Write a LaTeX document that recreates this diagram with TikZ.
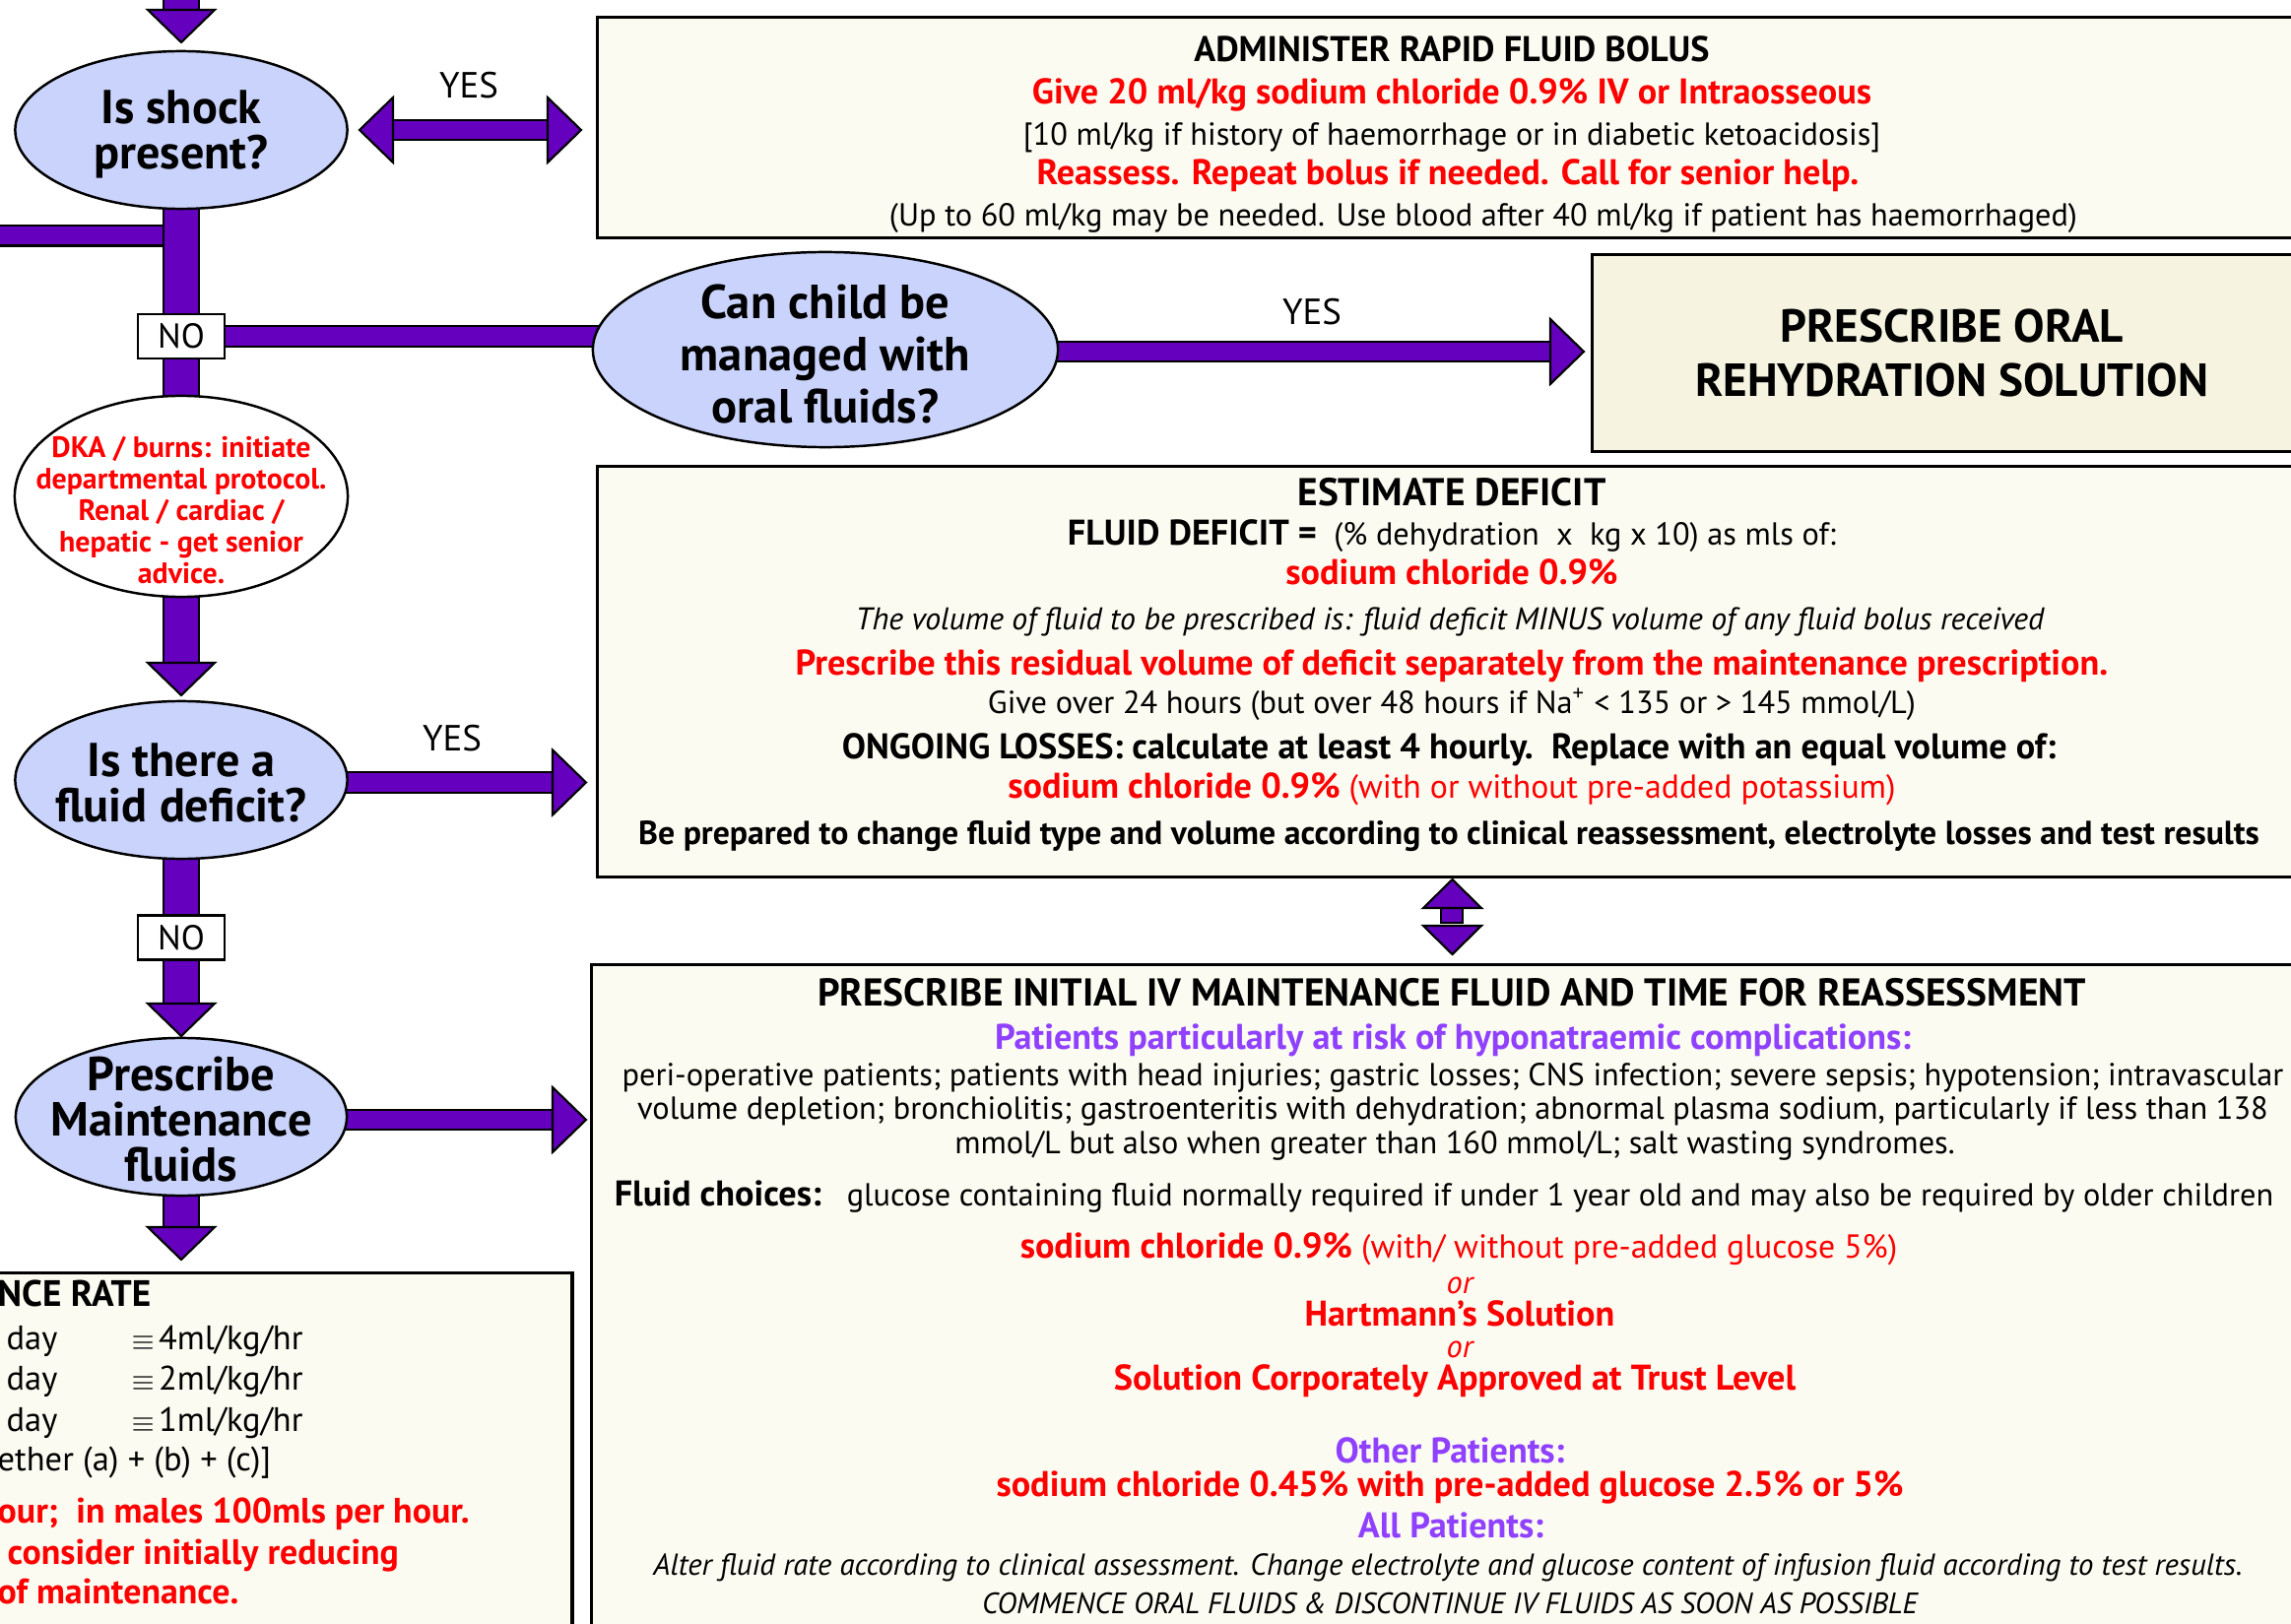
\documentclass[tikz,border=0pt]{standalone}
\usepackage{fontspec}
\setmainfont{PT Sans}
\usetikzlibrary{shapes.geometric, backgrounds}

\definecolor{flowpurple}{HTML}{6400BE}
\definecolor{ovalblue}{HTML}{C9D3FB}
\definecolor{boxcream}{HTML}{FBFBF1}
\definecolor{oralcream}{HTML}{F6F4E1}
\definecolor{alertred}{HTML}{FF0000}
\definecolor{riskviolet}{HTML}{9040FF}

\newcommand{\bigbold}{\bfseries\fontsize{10.3}{11}\selectfont}

\begin{document}
\begin{tikzpicture}[x=0.01cm, y=-0.01cm]
    \def\cx{184}
    \def\mx{1474}
    \tikzset{
        shaft/.style={draw=black, line width=0.6pt, double=flowpurple},
        hshaft/.style={shaft, double distance=0.18cm},
        vshaft/.style={shaft, double distance=0.34cm},
        tip/.style={fill=flowpurple, draw=black, line width=0.6pt},
        tipdown/.pic={\filldraw[tip] (-34,0) -- (34,0) -- (0,33) -- cycle;},
        tipright/.pic={\filldraw[tip] (0,-33) -- (0,33) -- (34,0) -- cycle;},
        tipleft/.pic={\filldraw[tip] (0,-33) -- (0,33) -- (-34,0) -- cycle;},
        oval/.style={ellipse, draw=black, line width=0.7pt, fill=ovalblue, inner sep=0pt},
        ovaltxt/.style={inner sep=0pt, align=center, font=\bfseries\fontsize{13.7}{13.2}\selectfont},
        infobox/.style={rectangle, draw=black, line width=0.9pt, fill=boxcream, anchor=north west, inner sep=0pt},
        nobox/.style={rectangle, draw=black, line width=0.6pt, fill=white, minimum width=0.88cm,
            minimum height=0.45cm, inner sep=0pt, font=\fontsize{10}{11}\selectfont},
        yestxt/.style={inner sep=0pt, font=\fontsize{10.5}{12}\selectfont},
        bodytxt/.style={inner sep=0pt, anchor=mid, yshift=-0.04cm, font=\fontsize{9.2}{10}\selectfont},
        boldtxt/.style={bodytxt, font=\bigbold},
        titletxt/.style={bodytxt, font=\bfseries\fontsize{11.2}{12}\selectfont},
        redbold/.style={boldtxt, text=alertred},
        redtxt/.style={bodytxt, text=alertred, font=\fontsize{9.6}{10}\selectfont},
        violetbold/.style={boldtxt, text=riskviolet},
        italtxt/.style={bodytxt, font=\itshape\fontsize{8.9}{10}\selectfont},
        ratetxt/.style={inner sep=0pt, anchor=mid west, font=\fontsize{9.8}{11}\selectfont},
        ratered/.style={ratetxt, text=alertred, font=\bfseries\fontsize{10.2}{11}\selectfont}
    }
    \useasboundingbox (0,0) rectangle (2326,1649);

    % decision column
    \node[oval, minimum width=3.37cm, minimum height=1.6cm] (shock) at (\cx,132) {};
    \node[ovaltxt] (shocktxt) at (\cx,136.5) {Is shock\\present?};
    \node[nobox] (no1) at (\cx,341.5) {NO};
    \node[oval, minimum width=4.72cm, minimum height=1.98cm] (oral) at (838,355) {};
    \node[ovaltxt, font=\bfseries\fontsize{13.8}{15.2}\selectfont] (oraltxt) at (838,359.5) {Can child be\\managed with\\oral fluids?};
    \node[oval, fill=white, minimum width=3.38cm, minimum height=2.04cm] (dka) at (\cx,504) {};
    \node[ovaltxt, text=alertred, font=\bfseries\fontsize{8.5}{9.1}\selectfont] (dkatxt) at (\cx,518) {DKA / burns: initiate\\departmental protocol.\\Renal / cardiac /\\hepatic - get senior\\advice.};
    \node[oval, minimum width=3.37cm, minimum height=1.6cm] (deficit) at (\cx,792) {};
    \node[ovaltxt, font=\bfseries\fontsize{13.7}{13.3}\selectfont] (deficittxt) at (\cx,795) {Is there a\\fluid deficit?};
    \node[nobox] (no2) at (\cx,952) {NO};
    \node[oval, minimum width=3.36cm, minimum height=1.6cm] (maint) at (\cx,1134) {};
    \node[ovaltxt, font=\bfseries\fontsize{13.8}{13.1}\selectfont] (mainttxt) at (\cx,1137) {Prescribe\\Maintenance\\fluids};

    % boxes
    \node[infobox, minimum width=17.4cm, minimum height=2.24cm] (bolus) at (605,16) {};
    \node[infobox, fill=oralcream, minimum width=7.3cm, minimum height=2cm, align=center,
        font=\bfseries\fontsize{13.4}{15.6}\selectfont] (ors) at (1615,257) {PRESCRIBE ORAL\\REHYDRATION SOLUTION};
    \node[infobox, minimum width=17.4cm, minimum height=4.17cm] (estimate) at (605,472) {};
    \node[infobox, minimum width=17.5cm, minimum height=7cm] (ivfluid) at (599,978) {};
    \node[infobox, minimum width=5.99cm, minimum height=4cm] (rate) at (-20,1291) {};

    % connectors
    \coordinate (entry) at (\cx,0);
    \coordinate (entryhead) at (\cx,10);
    \coordinate (leftin) at (0,239.5);
    \coordinate (dblL) at (399,132);
    \coordinate (dblR) at (556,132);
    \coordinate (orshead) at (1574,357);
    \coordinate (dkahead) at (\cx,673);
    \coordinate (defhead) at (561,794.5);
    \coordinate (mainhead) at (\cx,1019);
    \coordinate (ivhead) at (561,1137);
    \coordinate (ratehead) at (\cx,1246);
    \begin{scope}[on background layer]
        \draw[hshaft] (leftin) -- (leftin -| shock.center);
        \draw[vshaft] (entry) -- (entryhead);
        \draw[vshaft] (shock.center) -- (dka.center);
        \draw[hshaft] (no1.east) -- (no1.east -| oral.center);
        \draw[hshaft] (dblL) -- (dblR);
        \draw[hshaft] (oral.center |- orshead) -- (orshead);
        \draw[vshaft] (dka.center) -- (dkahead);
        \draw[hshaft] (deficit.center |- defhead) -- (defhead);
        \draw[vshaft] (deficit.center) -- (mainhead);
        \draw[hshaft] (maint.center |- ivhead) -- (ivhead);
        \draw[vshaft] (maint.center) -- (ratehead);
    \end{scope}
    \foreach \h in {entryhead, dkahead, mainhead, ratehead} {
        \pic at (\h) {tipdown};
    }
    \foreach \h in {dblR, orshead, defhead, ivhead} {
        \pic at (\h) {tipright};
    }
    \pic at (dblL) {tipleft};
    % up and down between the deficit box and the maintenance box
    \filldraw[tip] (1463,922) rectangle (1485,937);
    \filldraw[tip] (1445,922) -- (1504,922) -- (1474.5,893) -- cycle;
    \filldraw[tip] (1445,940) -- (1504,940) -- (1474.5,969) -- cycle;

    \node[yestxt] (yes1) at (476,87) {YES};
    \node[yestxt] (yes2) at (1332,317) {YES};
    \node[yestxt] (yes3) at (459,750) {YES};

    % bolus text
    \node[boldtxt] (b1) at (\mx,50) {ADMINISTER RAPID FLUID BOLUS};
    \node[redbold] (b2) at (\mx,93) {Give 20 ml/kg sodium chloride 0.9\% IV or Intraosseous};
    \node[bodytxt] (b3) at (\mx,135) {[10 ml/kg if history of haemorrhage or in diabetic ketoacidosis]};
    \node[redbold] (b4) at (1470,175) {Reassess. Repeat bolus if needed. Call for senior help.};
    \node[bodytxt] (b5) at (1506,217) {(Up to 60 ml/kg may be needed. Use blood after 40 ml/kg if patient has haemorrhaged)};

    % deficit text
    \node[titletxt] (d1) at (\mx,501) {ESTIMATE DEFICIT};
    \node[bodytxt] (d2) at (\mx,541) {{\bigbold FLUID DEFICIT =}\ \ (\% dehydration\ \ x\ \ kg x 10) as mls of:};
    \node[redbold] (d3) at (\mx,581) {sodium chloride 0.9\%};
    \node[italtxt, font=\itshape\fontsize{9.05}{10}\selectfont] (d4) at (1472,627) {The volume of fluid to be prescribed is: fluid deficit MINUS volume of any fluid bolus received};
    \node[redbold] (d5) at (\mx,673) {Prescribe this residual volume of deficit separately from the maintenance prescription.};
    \node[bodytxt] (d6) at (\mx,712) {Give over 24 hours (but over 48 hours if Na\textsuperscript{+} < 135 or > 145 mmol/L)};
    \node[boldtxt] (d7) at (1471,758) {ONGOING LOSSES: calculate at least 4 hourly.\ \ Replace with an equal volume of:};
    \node[redtxt] (d8) at (\mx,798) {{\bigbold sodium chloride 0.9\%} (with or without pre-added potassium)};
    \node[boldtxt, font=\bfseries\fontsize{9.6}{10}\selectfont] (d9) at (1471,845) {Be prepared to change fluid type and volume according to clinical reassessment, electrolyte losses and test results};

    % maintenance text
    \node[titletxt] (m1) at (\mx,1009) {PRESCRIBE INITIAL IV MAINTENANCE FLUID AND TIME FOR REASSESSMENT};
    \node[violetbold] (m2) at (1475,1053) {Patients particularly at risk of hyponatraemic complications:};
    \node[bodytxt] (m3) at (1475,1090) {peri-operative patients; patients with head injuries; gastric losses; CNS infection; severe sepsis; hypotension; intravascular};
    \node[bodytxt] (m4) at (1475,1124) {volume depletion; bronchiolitis; gastroenteritis with dehydration; abnormal plasma sodium, particularly if less than 138};
    \node[bodytxt] (m5) at (1477,1159) {mmol/L but also when greater than 160 mmol/L; salt wasting syndromes.};
    \node[bodytxt] (m6) at (1466,1212) {{\bigbold Fluid choices:}\ \ \ glucose containing fluid normally required if under 1 year old and may also be required by older children};
    \node[redtxt] (m7) at (1481,1265) {{\bigbold sodium chloride 0.9\%} (with/ without pre-added glucose 5\%)};
    \node[redtxt, font=\itshape\fontsize{9.2}{10}\selectfont] (m8) at (1482,1301) {or};
    \node[redbold] (m9) at (1482,1334) {Hartmann’s Solution};
    \node[redtxt, font=\itshape\fontsize{9.2}{10}\selectfont] (m10) at (1482,1366) {or};
    \node[redbold] (m11) at (1477,1399) {Solution Corporately Approved at Trust Level};
    \node[violetbold] (m12) at (1472,1473) {Other Patients:};
    \node[redbold] (m13) at (1472,1507) {sodium chloride 0.45\% with pre-added glucose 2.5\% or 5\%};
    \node[violetbold] (m14) at (1473,1549) {All Patients:};
    \node[italtxt, font=\itshape\fontsize{8.75}{10}\selectfont] (m15) at (1470,1587) {Alter fluid rate according to clinical assessment. Change electrolyte and glucose content of infusion fluid according to test results.};
    \node[italtxt, font=\itshape\fontsize{8.5}{10}\selectfont] (m16) at (1472,1626) {COMMENCE ORAL FLUIDS \& DISCONTINUE IV FLUIDS AS SOON AS POSSIBLE};

    % rate text
    \node[ratetxt, font=\bfseries\fontsize{10.6}{11}\selectfont] (r0) at (-3,1318) {NCE RATE};
    \foreach \rate [count=\i] in {4,2,1} {
        \node[ratetxt] (day\i) at (6,1320+41.5*\i) {day};
        \node[ratetxt] (rate\i) at (133,1320+41.5*\i) {{\fontsize{8}{8}\selectfont$\equiv$}\hspace{0.12em}\rate ml/kg/hr};
    }
    \node[ratetxt] (r4) at (-3,1485) {ether (a) + (b) + (c)]};
    \node[ratered] (r5) at (-3,1538) {our;\ \ in males 100mls per hour.};
    \node[ratered] (r6) at (7,1580) {consider initially reducing};
    \node[ratered] (r7) at (-3,1620) {of maintenance.};
\end{tikzpicture}
\end{document}
